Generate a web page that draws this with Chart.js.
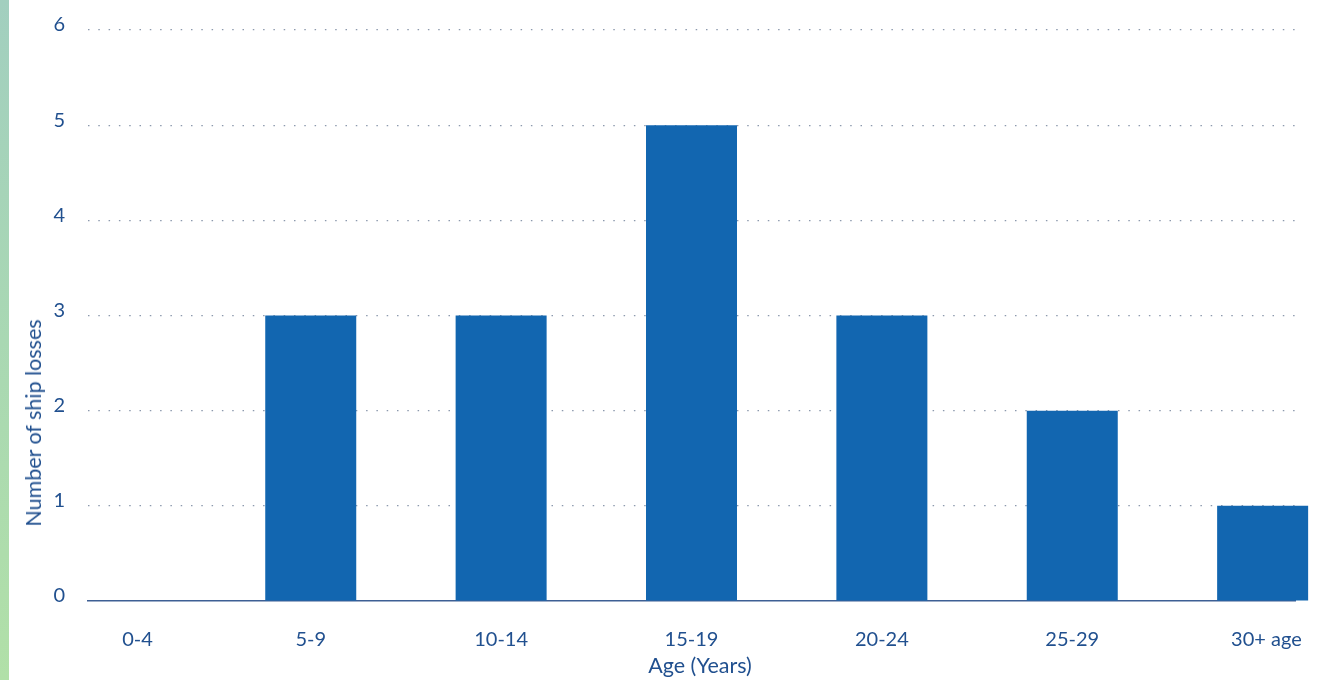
<!DOCTYPE html>
<html>
<head>
<meta charset="utf-8">
<script src="https://cdn.jsdelivr.net/npm/chart.js@4/dist/chart.umd.min.js"></script>
<style>
  html, body { margin: 0; padding: 0; background: #ffffff; overflow: hidden; }
  #wrap { position: relative; width: 1327px; height: 680px; }
  #stripe { position: absolute; left: 0; top: 0; width: 9px; height: 680px;
            background: linear-gradient(to bottom, #a2cfbf 0%, #a9d8b3 50%, #b1e0a8 100%); }
  #c { position: absolute; left: 0; top: 0; }
  .title { position: absolute; font-family: Lato, "DejaVu Sans", sans-serif; font-size: 21.5px;
           color: #21508f; white-space: nowrap; }
  #ytitle { left: 33px; top: 423px; transform: translate(-50%, -50%) rotate(-90deg); }
  #xtitle { left: 700px; top: 665px; transform: translate(-50%, -50%); }
</style>
</head>
<body>
<div id="wrap">
  <div id="stripe"></div>
  <canvas id="c" width="1327" height="680"></canvas>
  <div class="title" id="ytitle">Number of ship losses</div>
  <div class="title" id="xtitle">Age (Years)</div>
</div>
<script>
const categories = ["0-4", "5-9", "10-14", "15-19", "20-24", "25-29", "30+ age"];
const shipLosses = [0, 3, 3, 5, 3, 2, 1];
const yTicks = [0, 1, 2, 3, 4, 5, 6];

const textColor = '#21508f';
const labelPos = [0.09, 1, 2, 3, 4, 5, 6.02];

new Chart(document.getElementById('c'), {
  type: 'bar',
  data: {
    datasets: [{
      data: shipLosses.map((v, i) => ({ x: i, y: v })),
      backgroundColor: '#1266b0',
      borderWidth: 0,
      inflateAmount: 0,
      barThickness: 91,
      clip: false
    }]
  },
  options: {
    responsive: false,
    animation: false,
    devicePixelRatio: 1,
    layout: { padding: { top: 30, right: 32, left: 0, bottom: 0 } },
    plugins: { legend: { display: false }, tooltip: { enabled: false }, title: { display: false } },
    scales: {
      x: {
        type: 'linear',
        offset: false,
        min: -0.17,
        max: 6.17,
        afterFit: s => { s.height = 79; },
        afterBuildTicks: s => { s.ticks = labelPos.map(v => ({ value: v })); },
        grid: { display: false, offset: false },
        border: { display: true, color: '#3d5f94', width: 1.5 },
        ticks: {
          autoSkip: false,
          maxRotation: 0,
          padding: 19,
          color: textColor,
          font: { family: 'Lato', size: 20 },
          callback: v => categories[Math.round(v)]
        }
      },
      y: {
        min: 0,
        max: 6,
        afterFit: s => { s.width = 88; s.paddingTop = 0; s.paddingBottom = 0; },
        afterBuildTicks: s => { s.ticks = yTicks.map(v => ({ value: v })); },
        grid: {
          drawTicks: false,
          color: ctx => ctx.tick && ctx.tick.value === 0 ? 'rgba(0,0,0,0)' : '#8c99ad',
          lineWidth: 1.2
        },
        border: { display: false, dash: [1.5, 8.8] },
        ticks: {
          padding: 23,
          labelOffset: -5,
          color: textColor,
          font: { family: 'Lato', size: 20 }
        }
      }
    }
  }
});
</script>
</body>
</html>
